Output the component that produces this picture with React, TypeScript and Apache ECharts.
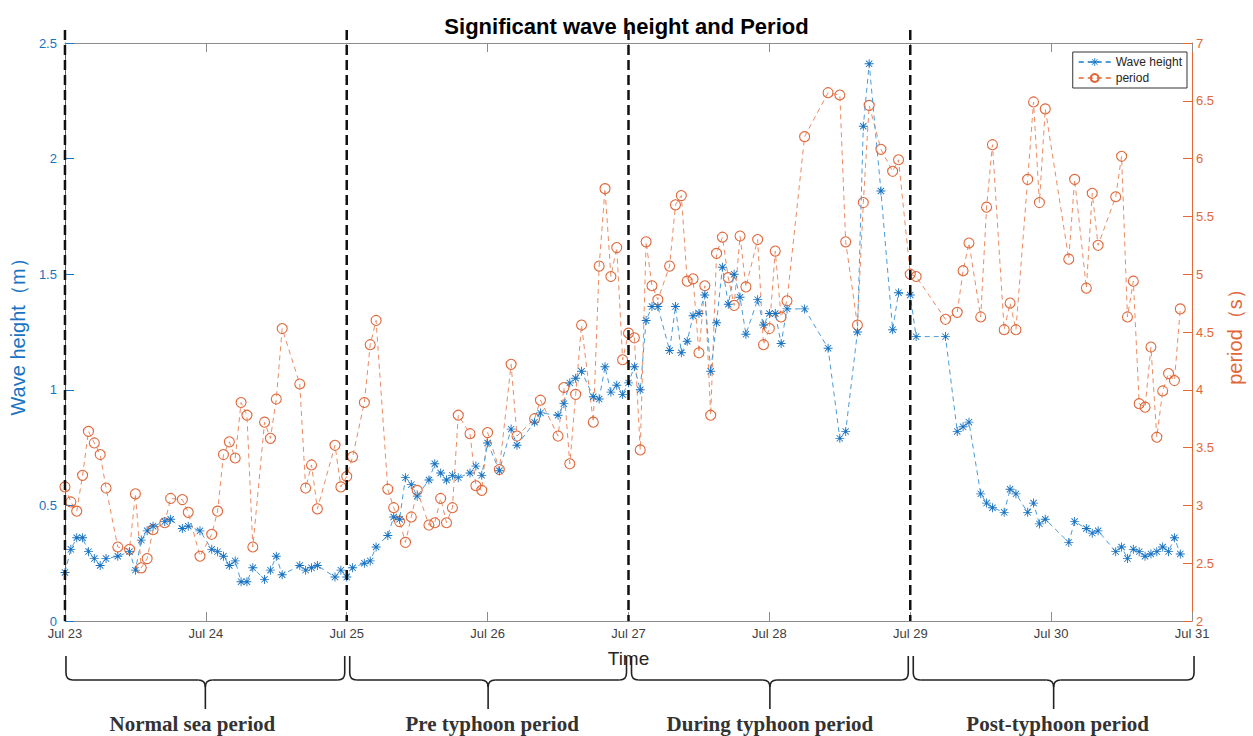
import React, { useEffect, useRef } from 'react';
import * as echarts from 'echarts';

// Hours since Jul 23 00:00 at which samples exist
const hours = [
  0, 1, 2, 3, 4, 5, 6, 7, 9, 11, 12, 13, 14, 15, 17, 18, 20, 21, 23,
  25, 26, 27, 28, 29, 30, 31, 32, 34, 35, 36, 37, 40, 41, 42, 43, 46, 47,
  48, 49, 51, 52, 53, 55, 56, 57, 58, 59, 60, 62, 63, 64, 65, 66, 67, 69, 70, 71,
  72, 74, 76, 77, 80, 81, 84, 85, 86, 87, 88, 90, 91, 92, 93, 94, 95,
  96, 97, 98, 99, 100, 101, 103, 104, 105, 106, 107, 108, 109, 110, 111, 112, 113, 114, 115, 116, 118, 119,
  120, 121, 122, 123, 126, 130, 132, 133, 135, 136, 137, 139, 141, 142,
  144, 145, 150, 152, 153, 154, 156, 157, 158, 160, 161, 162, 164, 165, 166, 167,
  171, 172, 174, 175, 176, 179, 180, 181, 182, 183, 184, 185, 186, 187, 188, 189, 190,
];

const waveHeight = [
  0.21, 0.31, 0.36, 0.36, 0.30, 0.27, 0.24, 0.27, 0.28, 0.30, 0.22, 0.35, 0.39, 0.41, 0.43, 0.44, 0.40, 0.41, 0.39,
  0.31, 0.30, 0.28, 0.24, 0.26, 0.17, 0.17, 0.23, 0.18, 0.22, 0.28, 0.20, 0.24, 0.22, 0.23, 0.24, 0.19, 0.22,
  0.19, 0.23, 0.25, 0.26, 0.32, 0.37, 0.45, 0.44, 0.62, 0.59, 0.54, 0.61, 0.68, 0.64, 0.61, 0.63, 0.62, 0.64, 0.67, 0.63,
  0.77, 0.65, 0.83, 0.76, 0.86, 0.90, 0.89, 0.94, 1.03, 1.05, 1.08, 0.97, 0.96, 1.10, 0.99, 1.02, 0.98,
  1.03, 1.10, 1.00, 1.30, 1.36, 1.36, 1.17, 1.36, 1.16, 1.21, 1.32, 1.33, 1.41, 1.08, 1.29, 1.53, 1.37, 1.50, 1.40, 1.24, 1.39, 1.28,
  1.33, 1.33, 1.20, 1.35, 1.35, 1.18, 0.79, 0.82, 1.25, 2.14, 2.41, 1.86, 1.26, 1.42,
  1.41, 1.23, 1.23, 0.82, 0.84, 0.86, 0.55, 0.51, 0.49, 0.47, 0.57, 0.55, 0.47, 0.51, 0.42, 0.44,
  0.34, 0.43, 0.40, 0.38, 0.39, 0.30, 0.32, 0.27, 0.31, 0.30, 0.28, 0.29, 0.30, 0.32, 0.30, 0.36, 0.29,
];

const period = [
  3.16, 3.03, 2.95, 3.26, 3.64, 3.54, 3.44, 3.15, 2.64, 2.62, 3.10, 2.46, 2.54, 2.79, 2.85, 3.06, 3.05, 2.94, 2.56,
  2.75, 2.95, 3.44, 3.55, 3.41, 3.89, 3.78, 2.64, 3.72, 3.58, 3.92, 4.53, 4.05, 3.15, 3.35, 2.97, 3.52, 3.16,
  3.25, 3.42, 3.89, 4.39, 4.60, 3.14, 2.98, 2.86, 2.68, 2.90, 3.13, 2.83, 2.85, 3.06, 2.85, 2.98, 3.78, 3.62, 3.17, 3.13,
  3.63, 3.31, 4.22, 3.60, 3.75, 3.91, 3.60, 4.02, 3.36, 3.96, 4.56, 3.72, 5.07, 5.74, 4.98, 5.23, 4.26,
  4.49, 4.45, 3.48, 5.28, 4.90, 4.78, 5.07, 5.60, 5.68, 4.94, 4.96, 4.32, 4.90, 3.78, 5.18, 5.32, 4.97, 4.73, 5.33, 4.89, 5.30, 4.39,
  4.53, 5.20, 4.63, 4.77, 6.19, 6.57, 6.55, 5.28, 4.56, 5.62, 6.46, 6.08, 5.89, 5.99,
  5.00, 4.98, 4.61, 4.67, 5.03, 5.27, 4.63, 5.58, 6.12, 4.52, 4.75, 4.52, 5.82, 6.49, 5.62, 6.43,
  5.13, 5.82, 4.88, 5.70, 5.25, 5.67, 6.02, 4.63, 4.94, 3.88, 3.85, 4.37, 3.59, 3.99, 4.14, 4.08, 4.70,
];

const xTickLabels = ['Jul 23', 'Jul 24', 'Jul 25', 'Jul 26', 'Jul 27', 'Jul 28', 'Jul 29', 'Jul 30', 'Jul 31'];
const phaseBounds = [0, 48, 96, 144, 192];
const phaseNames = ['Normal sea period', 'Pre typhoon period', 'During typhoon period', 'Post-typhoon period'];
const phaseLabelShift = [-13, 4, 0, 4];

const STAR =
  'path://M0,9H20V11H0Z M9,0H11V20H9Z M3.7,2.3L17.7,16.3L16.3,17.7L2.3,3.7Z M17.7,3.7L3.7,17.7L2.3,16.3L16.3,2.3Z';

const blue = '#1873c2';
const blueLine = '#4b9bd8';
const orange = '#e0683a';
const orangeLine = '#ec8b62';
const axisGray = '#8c8c8c';
const font = '"Liberation Sans", Arial, Helvetica, sans-serif';

function brace(xl: number, xr: number, yT: number, yH: number, yB: number) {
  const xm = (xl + xr) / 2;
  const r = 7;
  const st = { stroke: '#222', lineWidth: 1.6, fill: null as any };
  const mk = (shape: any, type = 'line') => ({ type, shape, style: st, silent: true, z: 100 });
  return [
    mk({ x1: xl, y1: yT, x2: xl, y2: yH - r }),
    mk({ x1: xl, y1: yH - r, cpx1: xl, cpy1: yH, x2: xl + r, y2: yH }, 'bezierCurve'),
    mk({ x1: xl + r, y1: yH, x2: xm - r, y2: yH }),
    mk({ x1: xm - r, y1: yH, cpx1: xm, cpy1: yH, x2: xm, y2: yH + r }, 'bezierCurve'),
    mk({ x1: xm + r, y1: yH, cpx1: xm, cpy1: yH, x2: xm, y2: yH + r }, 'bezierCurve'),
    mk({ x1: xm, y1: yH + r, x2: xm, y2: yB }),
    mk({ x1: xm + r, y1: yH, x2: xr - r, y2: yH }),
    mk({ x1: xr - r, y1: yH, cpx1: xr, cpy1: yH, x2: xr, y2: yH - r }, 'bezierCurve'),
    mk({ x1: xr, y1: yH - r, x2: xr, y2: yT }),
  ];
}

export default function App() {
  const ref = useRef<HTMLDivElement>(null);
  useEffect(() => {
    if (!ref.current) return;
    const chart = echarts.init(ref.current, undefined, { renderer: 'svg' });
    const waveData = hours.map((h, i) => [h, waveHeight[i]]);
    const periodData = hours.map((h, i) => [h, period[i]]);
    const xAxisCommon = {
      type: 'value',
      min: 0,
      max: 192,
      interval: 24,
      axisLine: { show: true, onZero: false, lineStyle: { color: axisGray, width: 1 } },
      axisTick: { show: true, inside: true, length: 9, lineStyle: { color: axisGray } },
      splitLine: { show: false },
    };
    chart.setOption({
      animation: false,
      backgroundColor: '#fff',
      title: {
        text: 'Significant wave height and Period',
        left: 'center',
        top: 10,
        textStyle: { fontSize: 22, fontWeight: 'bold', color: '#000', fontFamily: font },
      },
      legend: {
        right: 66,
        top: 52,
        orient: 'vertical',
        backgroundColor: '#fff',
        borderColor: '#333',
        borderWidth: 1,
        borderRadius: 0,
        padding: [4, 5],
        itemGap: 4,
        itemWidth: 32,
        itemHeight: 10,
        textStyle: { fontSize: 12, color: '#262626', fontFamily: font },
        data: ['Wave height', 'period'],
      },
      grid: { left: 61, right: 55, top: 43, bottom: 115, containLabel: false },
      xAxis: [
        {
          ...xAxisCommon,
          position: 'bottom',
          name: 'Time',
          nameLocation: 'middle',
          nameGap: 28,
          nameTextStyle: { fontSize: 19, color: '#262626', fontFamily: font },
          axisLabel: {
            formatter: (v: number) => xTickLabels[Math.round(v / 24)],
            fontSize: 13,
            color: '#404040',
            margin: 6,
            fontFamily: font,
          },
        },
        { ...xAxisCommon, position: 'top', axisLabel: { show: false } },
      ],
      yAxis: [
        {
          type: 'value',
          min: 0,
          max: 2.5,
          interval: 0.5,
          position: 'left',
          name: 'Wave height（m）',
          nameLocation: 'middle',
          nameRotate: 90,
          nameGap: 30,
          nameTextStyle: { fontSize: 20, color: blue, fontFamily: font },
          axisLine: { show: true, onZero: false, lineStyle: { color: blue, width: 1 } },
          axisTick: { show: true, inside: true, length: 9, lineStyle: { color: blue } },
          axisLabel: { color: blue, fontSize: 13, margin: 8, fontFamily: font },
          splitLine: { show: false },
        },
        {
          type: 'value',
          min: 2,
          max: 7,
          interval: 0.5,
          position: 'right',
          name: 'period（s）',
          nameLocation: 'middle',
          nameRotate: 90,
          nameGap: 32,
          nameTextStyle: { fontSize: 20, color: orange, fontFamily: font },
          axisLine: { show: true, onZero: false, lineStyle: { color: orange, width: 1 } },
          axisTick: { show: true, inside: true, length: 9, lineStyle: { color: orange } },
          axisLabel: { color: orange, fontSize: 13, margin: 4, fontFamily: font },
          splitLine: { show: false },
        },
      ],
      series: [
        {
          name: 'Wave height',
          type: 'line',
          xAxisIndex: 0,
          yAxisIndex: 0,
          data: waveData,
          symbol: STAR,
          symbolSize: 9,
          itemStyle: { color: blue },
          lineStyle: { color: blueLine, width: 1, type: [5, 4] },
          z: 3,
        },
        {
          name: 'period',
          type: 'line',
          xAxisIndex: 0,
          yAxisIndex: 1,
          data: periodData,
          symbol: 'circle',
          symbolSize: 10,
          itemStyle: { color: 'rgba(255,255,255,0)', borderColor: orange, borderWidth: 1.1 },
          lineStyle: { color: orangeLine, width: 1, type: [5, 4] },
          z: 2,
        },
      ],
    });

    const xs = phaseBounds.map((h) => chart.convertToPixel({ xAxisIndex: 0 }, h) as number);
    const yTop = chart.convertToPixel({ yAxisIndex: 0 }, 2.5) as number;
    const yBot = chart.convertToPixel({ yAxisIndex: 0 }, 0) as number;
    const elements: any[] = [];
    for (let i = 0; i < 4; i++) {
      elements.push({
        type: 'line',
        silent: true,
        z: 90,
        shape: { x1: xs[i], y1: yTop - 13, x2: xs[i], y2: yBot },
        style: { stroke: '#111', lineWidth: 2.5, lineDash: [10, 5] },
      });
    }
    for (let i = 0; i < 4; i++) {
      const xl = xs[i] + (i === 0 ? 1 : 3);
      const xr = xs[i + 1] - (i === 3 ? -2 : 2);
      elements.push(...brace(xl, xr, yBot + 35, yBot + 59, yBot + 88));
      elements.push({
        type: 'text',
        silent: true,
        z: 100,
        x: (xl + xr) / 2 + phaseLabelShift[i],
        y: yBot + 103,
        style: {
          text: phaseNames[i],
          font: 'bold 21px "Liberation Serif", "Times New Roman", serif',
          fill: '#333',
          align: 'center',
          verticalAlign: 'middle',
        },
      });
    }
    chart.setOption({ graphic: elements });

    return () => chart.dispose();
  }, []);
  return (
    <div
      ref={ref}
      style={{ position: 'fixed', left: 0, top: 0, width: 1253, height: 736, background: '#fff' }}
    />
  );
}
